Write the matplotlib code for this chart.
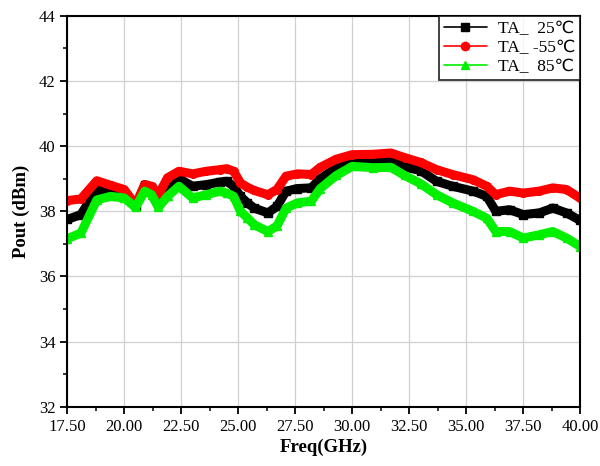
import numpy as np
import matplotlib
matplotlib.use("Agg")
import matplotlib.pyplot as plt
from matplotlib.ticker import MultipleLocator, FormatStrFormatter

# --- datos ---
freq = [17.5, 18.1, 18.8, 19.4, 20.0, 20.5, 20.9, 21.2, 21.5, 21.9, 22.4, 23.0,
        23.6, 24.2, 24.5, 24.8, 25.1, 25.4, 25.7, 26.3, 26.7, 27.1, 27.6, 28.2,
        28.6, 29.3, 30.0, 30.9, 31.7, 32.3, 33.0, 33.7, 34.4, 35.3, 35.9, 36.3,
        36.9, 37.5, 38.2, 38.8, 39.4, 40.0]

pout_25 = [37.75, 37.9, 38.67, 38.56, 38.46, 38.15, 38.82, 38.7, 38.36, 38.7, 39.0, 38.77,
           38.82, 38.9, 38.92, 38.77, 38.46, 38.26, 38.1, 37.95, 38.15, 38.62, 38.7, 38.72,
           39.0, 39.33, 39.54, 39.55, 39.57, 39.36, 39.25, 38.92, 38.77, 38.62, 38.46, 38.0,
           38.05, 37.9, 37.95, 38.1, 37.95, 37.72]

pout_m55 = [38.33, 38.38, 38.94, 38.8, 38.67, 38.2, 38.82, 38.77, 38.5, 39.03, 39.23, 39.15,
            39.23, 39.28, 39.31, 39.23, 38.87, 38.74, 38.64, 38.51, 38.67, 39.08, 39.15, 39.13,
            39.35, 39.6, 39.74, 39.75, 39.79, 39.65, 39.5, 39.28, 39.13, 38.97, 38.77, 38.51,
            38.62, 38.56, 38.62, 38.72, 38.67, 38.4]

pout_85 = [37.16, 37.33, 38.35, 38.46, 38.41, 38.12, 38.62, 38.51, 38.12, 38.46, 38.77, 38.41,
           38.51, 38.62, 38.56, 38.46, 38.0, 37.8, 37.59, 37.38, 37.55, 38.1, 38.26, 38.31,
           38.7, 39.1, 39.38, 39.34, 39.35, 39.1, 38.85, 38.51, 38.26, 38.0, 37.79, 37.38,
           37.38, 37.18, 37.28, 37.38, 37.18, 36.92]

etiquetas = ["TA_  25℃", "TA_ -55℃", "TA_  85℃"]
colores = ["#000000", "#ff0000", "#00f000"]
marcadores = ["s", "o", "^"]

plt.rcParams['font.family'] = ['Liberation Serif', 'DejaVu Sans', 'Noto Sans CJK SC']

fig = plt.figure(figsize=(6.0, 4.66), dpi=100)
ax = fig.add_axes([0.112, 0.127, 0.855, 0.839])

series = [pout_25, pout_m55, pout_85]
for datos, col, mk, lab in zip(series, colores, marcadores, etiquetas):
    ax.plot(freq, datos, color=col, lw=6.5, marker=mk, ms=5.5, mec=col, mfc=col,
            label=lab, solid_joinstyle='round', solid_capstyle='round')

ax.set_xlim(17.5, 40)
ax.set_ylim(32, 44)
ax.xaxis.set_major_locator(MultipleLocator(2.5))
ax.xaxis.set_minor_locator(MultipleLocator(1.25))
ax.yaxis.set_major_locator(MultipleLocator(2))
ax.yaxis.set_minor_locator(MultipleLocator(1))
ax.xaxis.set_major_formatter(FormatStrFormatter('%.2f'))

ax.grid(True, which='major', color='#d0d0d0', lw=0.9)
ax.set_axisbelow(True)
for s in ax.spines.values():
    s.set_linewidth(1.5)
ax.tick_params(which='major', direction='out', length=5, width=1.3, labelsize=12)
ax.tick_params(which='minor', direction='out', length=3, width=1.1)

ax.set_xlabel("Freq(GHz)", fontsize=13.5, fontweight='bold', labelpad=3)
ax.set_ylabel("Pout (dBm)", fontsize=13.5, fontweight='bold', labelpad=6)

# leyenda con línea + marcador
leg = ax.legend(loc='upper right', fontsize=12.5, frameon=True, fancybox=False,
                edgecolor='black', borderaxespad=0.0, handlelength=2.5,
                labelspacing=0.15, borderpad=0.3, handletextpad=0.6)
leg.get_frame().set_linewidth(1.3)
for h in leg.get_lines():
    h.set_linewidth(1.2)
    h.set_markersize(6)

fig.savefig("out.png", dpi=100)
